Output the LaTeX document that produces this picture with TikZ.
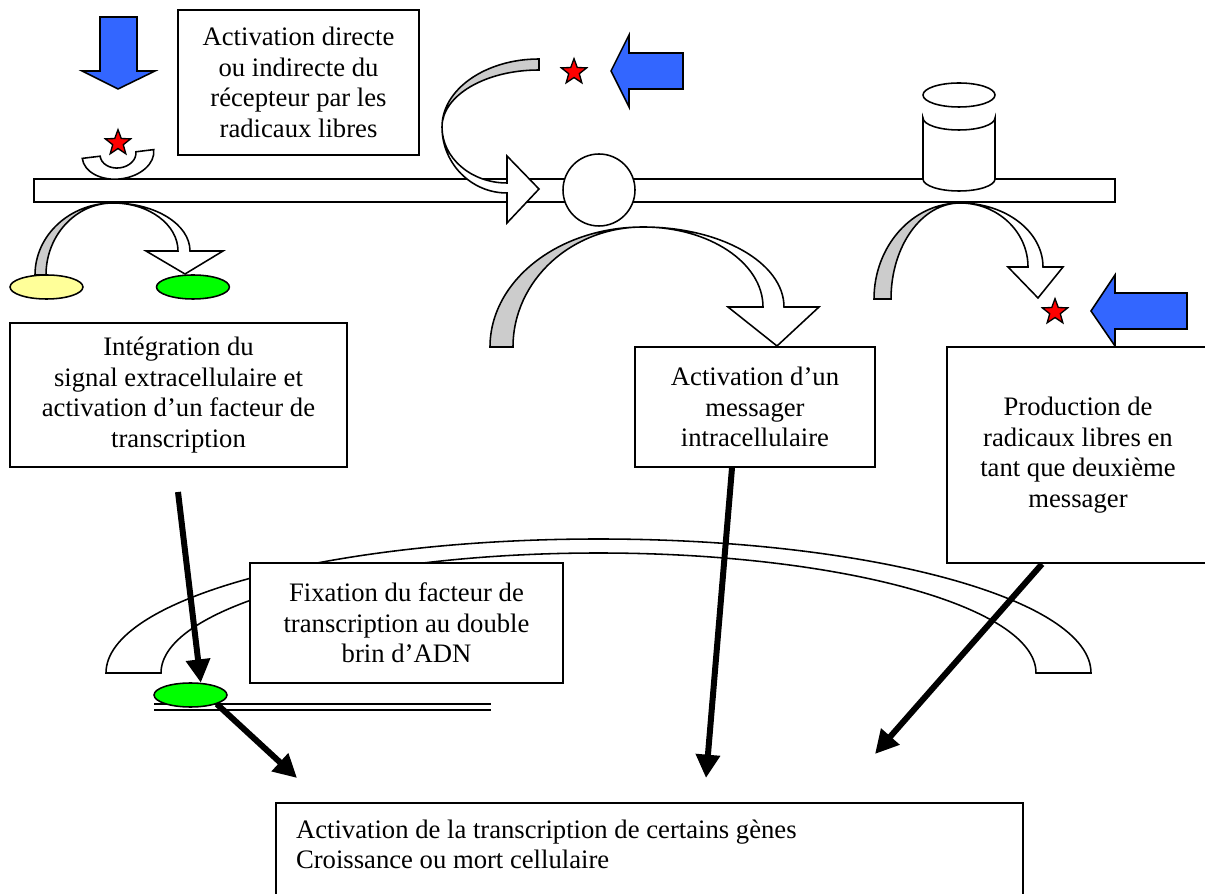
\documentclass[tikz,border=0pt]{standalone}
\usepackage{fontspec}
\setmainfont{Liberation Serif}
\usepackage{xcolor}
\usepackage{tikz}
\usetikzlibrary{shapes, arrows.meta, positioning, calc}
\pgfdeclarelayer{background}
\pgfsetlayers{background,main}
\definecolor{sigblue}{RGB}{51,102,255}
\definecolor{bandgray}{RGB}{204,204,204}
\definecolor{tfyellow}{RGB}{255,255,153}
\definecolor{tfgreen}{RGB}{0,255,0}
\tikzset{
	txt_box/.style={rectangle, draw=black, line width=0.9pt, fill=white, align=center, inner sep=0pt, font=\fontsize{12}{13.8}\selectfont},
	outline/.style={draw=black, line width=0.7pt},
	band_back/.style={outline, fill=bandgray},
	band_front/.style={outline, fill=white},
	blue_arrow/.style={outline, fill=sigblue},
	radical/.style={star, star points=5, star point ratio=2.4, draw=black, line width=0.6pt, fill=red, minimum size=12pt, inner sep=0pt},
	tf/.style={ellipse, draw=black, line width=0.7pt, minimum width=32.8pt, minimum height=10.8pt, inner sep=0pt},
	dna/.style={double, line width=0.9pt, double distance=1.8pt},
	signal_arrow/.style={-{Triangle[length=10.5pt, width=10.5pt]}, line width=2.7pt}
}

\begin{document}
\begin{tikzpicture}[x=0.45pt, y=-0.45pt]
	\useasboundingbox (0,0) rectangle (1205,894);
	\draw[outline, line width=0.9pt, fill=white] (34,179) rectangle (1115,202);
	\draw[outline, fill=white, rotate around={7:(118,154)}] (82,154) arc[start angle=180, end angle=0, x radius=36, y radius=25] -- (136,154) arc[start angle=0, end angle=180, x radius=18, y radius=14] -- cycle;
	\node[circle, outline, fill=white, minimum size=32.4pt, inner sep=0pt] (channel) at (599,190) {};
	\draw[outline, fill=white] (923,118) -- (923,179) arc[start angle=180, end angle=0, x radius=36, y radius=12] -- (995,118) arc[start angle=0, end angle=180, x radius=36, y radius=12] -- cycle;
	\draw[outline, fill=white] (959,95) ellipse[x radius=36, y radius=12];

	\draw[band_back] (35,275) arc[start angle=180, end angle=270, x radius=78, y radius=72] arc[start angle=270, end angle=180, x radius=67, y radius=72] -- cycle;
	\draw[band_front] (113,203) arc[start angle=270, end angle=360, x radius=77, y radius=48] -- (223,251) -- (185,274) -- (146,251) -- (178,251) arc[start angle=0, end angle=-90, x radius=65, y radius=48] -- cycle;
	\draw[band_back] (490,347) arc[start angle=180, end angle=270, x radius=153, y radius=120] arc[start angle=270, end angle=180, x radius=130, y radius=120] -- cycle;
	\draw[band_front] (643,227) arc[start angle=270, end angle=360, x radius=141, y radius=80] -- (819,307) -- (777,346) -- (728,307) -- (763,307) arc[start angle=0, end angle=-90, x radius=120, y radius=80] -- cycle;
	\draw[band_back] (874,299) arc[start angle=180, end angle=270, x radius=86, y radius=96] arc[start angle=270, end angle=180, x radius=69, y radius=96] -- cycle;
	\draw[band_front] (960,203) arc[start angle=270, end angle=360, x radius=83, y radius=64] -- (1063,267) -- (1038,298) -- (1008,267) -- (1028,267) arc[start angle=0, end angle=-90, x radius=68, y radius=64] -- cycle;
	\draw[band_back] (539,59) arc[start angle=270, end angle=180, x radius=97, y radius=68] arc[start angle=180, end angle=270, x radius=97, y radius=57] -- cycle;
	\draw[band_front] (442,127) arc[start angle=180, end angle=90, x radius=65, y radius=66] -- (507,223) -- (539,189) -- (507,156) -- (507,183) arc[start angle=90, end angle=180, x radius=65, y radius=56] -- cycle;

	\draw[blue_arrow] (100,17) -- (137,17) -- (137,71) -- (155,71) -- (118,89) -- (82,71) -- (100,71) -- cycle;
	\draw[blue_arrow] (683,53) -- (629,53) -- (629,35) -- (611,71) -- (629,107) -- (629,89) -- (683,89) -- cycle;
	\draw[blue_arrow] (1187,293) -- (1115,293) -- (1115,275) -- (1091,311) -- (1115,346) -- (1115,329) -- (1187,329) -- cycle;
	\node[radical] (rad_receptor) at (118,143) {};
	\node[radical] (rad_free) at (574,72) {};
	\node[radical] (rad_second) at (1055,312) {};

	\node[tf, fill=tfyellow] (tf_inactive) at (46.5,287) {};
	\node[tf, fill=tfgreen, right=32.4pt of tf_inactive] (tf_active) {};

	\node[txt_box, minimum width=108.5pt, minimum height=65.2pt] (direct) at (298.5,82.5) {Activation directe\\ou indirecte du\\récepteur par les\\radicaux libres};
	\node[txt_box, minimum width=151.6pt, minimum height=64.8pt] (integr) at (178.5,395) {Intégration du\\signal extracellulaire et\\activation d’un facteur de\\transcription};
	\node[txt_box, minimum width=108pt, minimum height=54pt] (msg) at (755,407) {Activation d’un\\messager\\intracellulaire};
	\node[txt_box, minimum width=117.9pt, minimum height=97.2pt] (prod) at (1078,455) {Production de\\radicaux libres en\\tant que deuxième\\messager};

	\begin{pgfonlayer}{background}
		\draw[band_front] (106,673) arc[start angle=180, end angle=360, x radius=492.5, y radius=134] -- (1036,673) arc[start angle=0, end angle=-180, x radius=437.5, y radius=120] -- cycle;
	\end{pgfonlayer}
	\node[txt_box, minimum width=140.8pt, minimum height=54pt] (fix) at (406.5,623) {Fixation du facteur de\\transcription au double\\brin d’ADN};

	\coordinate (dna_l) at (154,707);
	\coordinate (dna_r) at (491,707);
	\draw[dna] (dna_l) -- (dna_r);
	\node[tf, fill=tfgreen] (tf_bound) at (190.5,695) {};

	\node[txt_box, anchor=north west, align=flush left, text width=318.1pt, inner xsep=9pt, inner ysep=7.5pt] (outcome) at (275,802) {Activation de la transcription de certains gènes\\Croissance ou mort cellulaire\\\strut};

	\coordinate (integr_out) at (178,492);
	\coordinate (hit_left) at (297,778);
	\coordinate (hit_mid) at (706,778);
	\coordinate (hit_right) at (875,754);
	\draw[signal_arrow] (integr_out) -- (tf_bound.50);
	\draw[signal_arrow] (tf_bound.south east) -- (hit_left);
	\draw[signal_arrow] ($(msg.south)+(-23,0)$) -- (hit_mid);
	\draw[signal_arrow] ($(prod.south)+(-36,0)$) -- (hit_right);
\end{tikzpicture}
\end{document}
